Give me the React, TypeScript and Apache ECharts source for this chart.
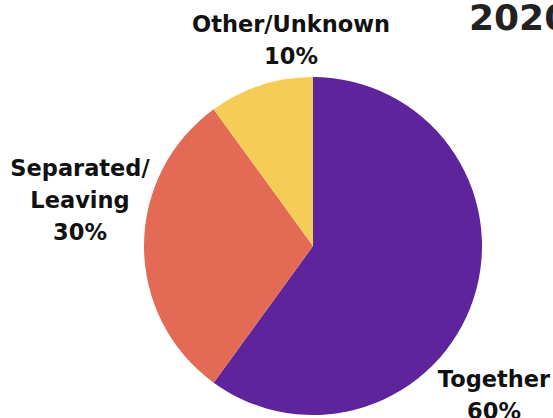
import React, { useEffect, useRef } from "react";
import * as echarts from "echarts";

const categories = ["Together", "Separated/\nLeaving", "Other/Unknown"];
const values = [60, 30, 10];
const colors = ["#5E249C", "#E36A54", "#F5CD56"];
const titleText = "2020";
// label anchor positions (label placement only)
const labelPos: [number, number][] = [
  [494, 395],
  [80, 200],
  [291, 40],
];

export default function App() {
  const ref = useRef<HTMLDivElement>(null);
  useEffect(() => {
    document.body.style.margin = "0";
    const chart = echarts.init(ref.current!, null, { renderer: "svg" });
    chart.setOption({
      animation: false,
      backgroundColor: "#ffffff",
      title: {
        text: titleText,
        left: 464,
        top: -6,
        textStyle: {
          fontFamily: "DejaVu Sans",
          fontWeight: "bold",
          fontSize: 36,
          color: "#222222",
        },
      },
      series: [
        {
          type: "pie",
          center: [313, 246],
          radius: 169,
          startAngle: 90,
          clockwise: true,
          data: categories.map((c, i) => ({
            name: c,
            value: values[i],
            itemStyle: { color: colors[i] },
          })),
          label: {
            show: true,
            position: "outside",
            formatter: (p: any) => `${p.name}\n${p.value}%`,
            fontFamily: "DejaVu Sans",
            fontWeight: "bold",
            fontSize: 22.5,
            lineHeight: 32,
            color: "#111111",
            align: "center",
            overflow: "none",
            width: 300,
          },
          labelLine: { show: false },
          labelLayout: (params: any) => {
            const pos = labelPos[params.dataIndex];
            return {
              x: pos[0],
              y: pos[1],
              align: "center",
              verticalAlign: "middle",
            };
          },
        },
      ],
    });
    return () => chart.dispose();
  }, []);
  return <div ref={ref} style={{ width: 553, height: 418 }} />;
}
